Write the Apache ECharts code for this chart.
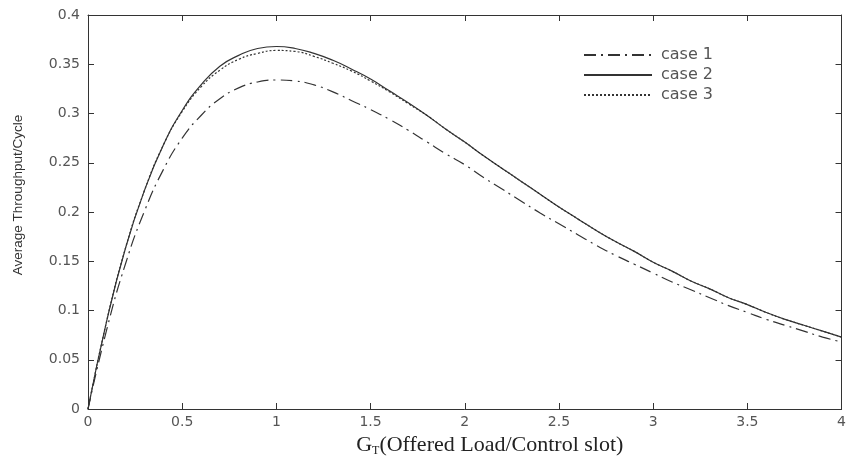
<!DOCTYPE html>
<html>
<head>
<meta charset="utf-8">
<script src="https://cdn.jsdelivr.net/npm/echarts@6/dist/echarts.min.js"></script>
<style>
html,body{margin:0;padding:0;background:#fff;}
#chart{width:849px;height:466px;}
</style>
</head>
<body>
<div id="chart"></div>
<script>
// x values (G_T)
var xValues = [0,0.1,0.2,0.3,0.4,0.5,0.6,0.7,0.8,0.9,1.0,1.1,1.2,1.3,1.4,1.5,1.6,1.7,1.8,1.9,2.0,2.1,2.2,2.3,2.4,2.5,2.6,2.7,2.8,2.9,3.0,3.1,3.2,3.3,3.4,3.5,3.6,3.7,3.8,3.9,4.0];
var case1 = [0,0.081,0.148,0.201,0.243,0.275,0.298,0.315,0.326,0.332,0.334,0.333,0.329,0.322,0.313,0.304,0.294,0.283,0.271,0.259,0.248,0.235,0.223,0.211,0.199,0.188,0.177,0.166,0.156,0.147,0.138,0.129,0.121,0.113,0.105,0.098,0.091,0.085,0.079,0.073,0.068];
var case2 = [0,0.090,0.164,0.222,0.268,0.303,0.329,0.348,0.359,0.366,0.368,0.366,0.361,0.354,0.345,0.335,0.323,0.311,0.298,0.284,0.271,0.257,0.244,0.231,0.218,0.205,0.193,0.181,0.170,0.160,0.149,0.140,0.130,0.122,0.113,0.106,0.098,0.091,0.085,0.079,0.073];
var case3 = [0,0.090,0.164,0.222,0.268,0.302,0.327,0.344,0.355,0.361,0.364,0.363,0.358,0.351,0.343,0.333,0.322,0.310,0.298,0.284,0.271,0.257,0.244,0.231,0.218,0.205,0.193,0.181,0.170,0.160,0.149,0.140,0.130,0.122,0.113,0.106,0.098,0.091,0.085,0.079,0.073];
var seriesNames = ['case 1','case 2','case 3'];
var xTickLabels = {'0':'0','0.5':'0.5','1':'1','1.5':'1.5','2':'2','2.5':'2.5','3':'3','3.5':'3.5','4':'4'};
var yTickLabels = {'0':'0','0.05':'0.05','0.1':'0.1','0.15':'0.15','0.2':'0.2','0.25':'0.25','0.3':'0.3','0.35':'0.35','0.4':'0.4'};

function pairs(ys){ return xValues.map(function(x,i){return [x, ys[i]];}); }

var chart = echarts.init(document.getElementById('chart'), null, {renderer:'canvas'});
var tickFont = {fontFamily:'DejaVu Sans, sans-serif', fontSize:14, color:'#555'};
var lineCol = '#333';
var frameTick = {show:true, inside:true, length:6, lineStyle:{color:'#333'}};
var frameLine = {show:true, onZero:false, lineStyle:{color:'#333', width:1}};
chart.setOption({
  animation:false,
  backgroundColor:'#fff',
  grid:{left:88, right:6, top:15, bottom:57, show:false},
  legend:{
    orient:'vertical', left:578, top:42, itemWidth:68, itemHeight:14, itemGap:4,
    itemStyle:{opacity:0},
    textStyle:{fontFamily:'DejaVu Sans, sans-serif', fontSize:16, color:'#555', padding:[0,0,0,4]},
    data:seriesNames
  },
  xAxis:[{
    type:'value', min:0, max:4, interval:0.5, position:'bottom',
    name:'{main|G}{sub|T}{main|(Offered Load/Control slot)}', nameLocation:'middle', nameGap:24,
    nameTextStyle:{padding:[0,0,0,50], rich:{
      main:{fontFamily:'Liberation Serif, Times New Roman, serif', fontSize:22, color:'#222'},
      sub:{fontFamily:'Liberation Serif, Times New Roman, serif', fontSize:12, color:'#222', verticalAlign:'bottom', padding:[12,0,0,0]}
    }},
    axisLine:frameLine,
    axisTick:frameTick,
    axisLabel:Object.assign({margin:6, formatter:function(v){return xTickLabels[String(v)]||'';}}, tickFont),
    splitLine:{show:false}
  },{
    type:'value', min:0, max:4, interval:0.5, position:'top',
    axisLine:frameLine, axisTick:frameTick,
    axisLabel:{show:false}, splitLine:{show:false}
  }],
  yAxis:[{
    type:'value', min:0, max:0.4, interval:0.05, position:'left',
    name:'Average Throughput/Cycle', nameLocation:'middle', nameGap:63, nameRotate:90,
    nameTextStyle:{fontFamily:'Liberation Sans, Arial, sans-serif', fontSize:13.5, color:'#333', padding:[0,0,0,34]},
    axisLine:frameLine,
    axisTick:frameTick,
    axisLabel:Object.assign({margin:8, formatter:function(v){return yTickLabels[String(+v.toFixed(2))]||'';}}, tickFont),
    splitLine:{show:false}
  },{
    type:'value', min:0, max:0.4, interval:0.05, position:'right',
    axisLine:frameLine, axisTick:frameTick,
    axisLabel:{show:false}, splitLine:{show:false}
  }],
  series:[
    {name:seriesNames[0], type:'line', smooth:true, showSymbol:false, symbol:'none', data:pairs(case1),
     lineStyle:{color:lineCol, width:1.2, type:[12,5,2,5]}, itemStyle:{color:lineCol}},
    {name:seriesNames[1], type:'line', smooth:true, showSymbol:false, symbol:'none', data:pairs(case2),
     lineStyle:{color:lineCol, width:1.2, type:'solid'}, itemStyle:{color:lineCol}},
    {name:seriesNames[2], type:'line', smooth:true, showSymbol:false, symbol:'none', data:pairs(case3),
     lineStyle:{color:lineCol, width:1.2, type:[2,2]}, itemStyle:{color:lineCol}}
  ]
});
</script>
</body>
</html>
